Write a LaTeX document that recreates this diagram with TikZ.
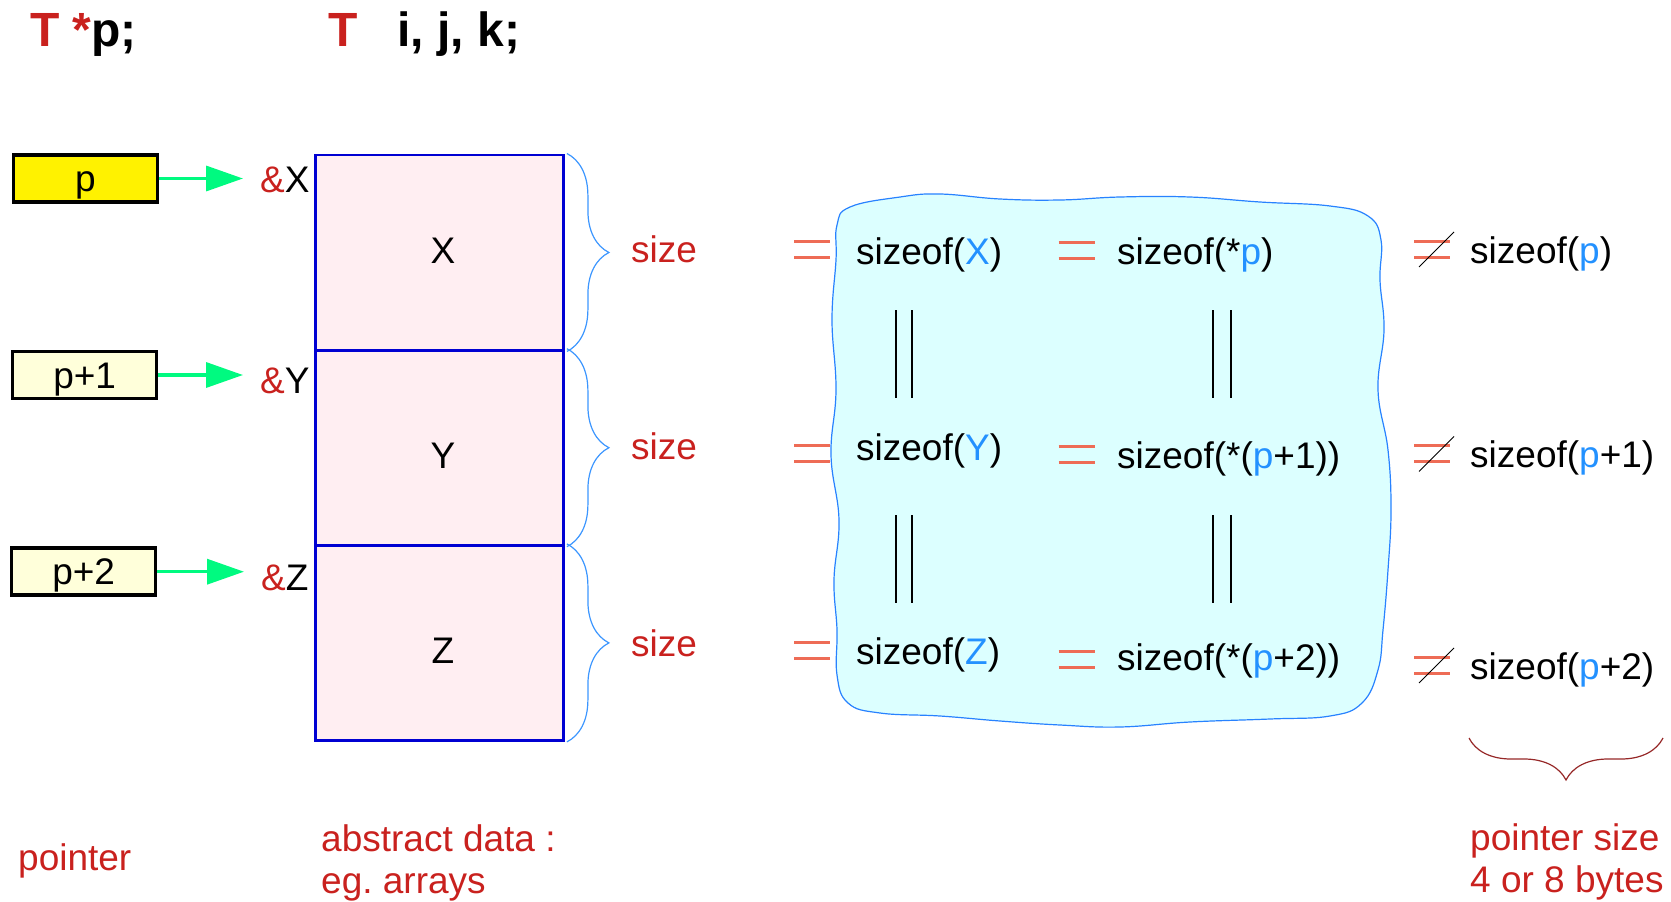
\documentclass[tikz,border=0pt]{standalone}
\usepackage{fontspec}
\setmainfont{Liberation Sans}
\usetikzlibrary{arrows.meta,decorations.pathreplacing}
\definecolor{declred}{RGB}{201,33,30}
\definecolor{lblue}{RGB}{35,145,255}
\definecolor{cellblue}{RGB}{0,0,210}
\definecolor{cellpink}{RGB}{255,238,242}
\definecolor{ptrgreen}{RGB}{0,250,128}
\definecolor{lightyel}{RGB}{255,255,218}
\definecolor{bracblue}{RGB}{60,150,255}
\definecolor{cloudfill}{RGB}{220,255,255}
\definecolor{cloudline}{RGB}{40,130,255}
\definecolor{eqsalmon}{RGB}{238,108,86}
\definecolor{bracred}{RGB}{150,40,40}
\frenchspacing

\begin{document}
\begin{tikzpicture}[x=1pt,y=-1pt]
 	\fontsize{37}{42}\selectfont
 	\def \rowone{252.5}
 	\def \rowtwo{447.7}
 	\def \rowthree{642.9}

 	\tikzstyle{p-node}=[draw=black,line width=3.5pt,minimum width=144pt,minimum height=47pt,inner sep=0pt,text height=26pt,text depth=0pt]
 	\tikzstyle{m-node}=[draw=cellblue,line width=2.8pt,fill=cellpink,minimum width=248pt,minimum height=195.2pt]
 	\tikzstyle{annot}=[anchor=base west,inner sep=0pt]
 	\tikzstyle{title}=[annot,font=\fontsize{48}{56}\selectfont\bfseries]
 	\tikzstyle{ptr}=[draw=ptrgreen,line width=3.5pt,-{Triangle[length=37pt,width=25pt]},shorten >=17pt]
 	\tikzstyle{size-brace}=[draw=bracblue,line width=1.2pt,decorate,decoration={brace,amplitude=42pt,raise=2pt}]
 	\tikzstyle{eq-line}=[draw=eqsalmon,line width=3pt]

 	\useasboundingbox (0,0) rectangle (1671,902);

 	% declarations
 	\node[title] (decl-p) at (30,46) {\textcolor{declred}{T *}p;};
 	\node[title] (decl-ijk) at (328,46) {\textcolor{declred}{T}\hspace{40pt}i, j, k;};

 	% pointers
 	\node[p-node,fill=yellow] (p0) at (85.3,178.5) {p};
 	\node[p-node,fill=lightyel] (p1) at (84.7,375) {p+1};
 	\node[p-node,fill=lightyel] (p2) at (83.7,571.7) {p+2};

 	\node[annot] (ax) at (260,192) {\textcolor{declred}{\&}X};
 	\node[annot] (ay) at (260,393) {\textcolor{declred}{\&}Y};
 	\node[annot] (az) at (261,590) {\textcolor{declred}{\&}Z};

 	\draw[ptr] (p0.east) -- (p0.east -| ax.west);
 	\draw[ptr] (p1.east) -- (p1.east -| ay.west);
 	\draw[ptr] (p2.east) -- (p2.east -| az.west);

 	% abstract data
 	\node[m-node] (cx) at (439.5,\rowone) {};
 	\node[m-node] (cy) at (439.5,\rowtwo) {};
 	\node[m-node] (cz) at (439.5,\rowthree) {};
 	\node (lx) at (443,250.4) {X};
 	\node (ly) at (443,456) {Y};
 	\node (lz) at (443,651) {Z};

 	\draw[size-brace] (cx.north east) -- (cx.south east);
 	\draw[size-brace] (cy.north east) -- (cy.south east);
 	\draw[size-brace] (cz.north east) -- (cz.south east);

 	\node[annot,text=declred] (size-x) at (631,262) {size};
 	\node[annot,text=declred] (size-y) at (631,459) {size};
 	\node[annot,text=declred] (size-z) at (631,656) {size};

 	% equal sizes
 	\draw[draw=cloudline,fill=cloudfill,line width=1.2pt] plot[smooth cycle,tension=0.7] coordinates {
 		(850,207) (900,197) (940,194) (1000,199) (1060,200) (1120,197) (1190,197)
 		(1260,202) (1330,206) (1368,216) (1381,240) (1380,280) (1384,330) (1378,390)
 		(1388,450) (1391,510) (1388,570) (1383,630) (1378,670) (1362,703) (1330,716)
 		(1270,719) (1190,722) (1120,727) (1060,725) (1000,721) (940,716) (880,713)
 		(848,703) (837,675) (837,630) (834,580) (839,520) (831,455) (836,390)
 		(832,320) (836,260) (837,225)};

 	\node[annot] (sx) at (856,264) {sizeof(\textcolor{lblue}{X})};
 	\node[annot] (sy) at (856,460) {sizeof(\textcolor{lblue}{Y})};
 	\node[annot] (sz) at (856,664) {sizeof(\textcolor{lblue}{Z})};
 	\node[annot] (sp0) at (1117,264) {sizeof(*\textcolor{lblue}{p})};
 	\node[annot] (sp1) at (1117,468) {sizeof(*(\textcolor{lblue}{p}+1))};
 	\node[annot] (sp2) at (1117,670) {sizeof(*(\textcolor{lblue}{p}+2))};

 	\foreach \ex/\ey in {812/249.5,812/453.5,812/650,1076.5/250.5,1076.5/454,1076.5/659}{
 		\draw[eq-line] (\ex-18,\ey-8) -- (\ex+18,\ey-8);
 		\draw[eq-line] (\ex-18,\ey+8) -- (\ex+18,\ey+8);
 	}
 	\foreach \bx in {896,912,1213,1231}
 		\foreach \by in {310,515}
 			\draw[line width=2.2pt] (\bx,\by) -- (\bx,\by+87.5);

 	% pointer sizes
 	\foreach \ey in {249,453.5,665}{
 		\draw[eq-line] (1414,\ey-8) -- (1450,\ey-8);
 		\draw[eq-line] (1414,\ey+8) -- (1450,\ey+8);
 		\draw[line width=1pt] (1419,\ey+18) -- (1454,\ey-17);
 	}
 	\node[annot] (np0) at (1470,263) {sizeof(\textcolor{lblue}{p})};
 	\node[annot] (np1) at (1470,467) {sizeof(\textcolor{lblue}{p}+1)};
 	\node[annot] (np2) at (1470,679) {sizeof(\textcolor{lblue}{p}+2)};

 	\coordinate (bb-r) at (1663,738);
 	\coordinate (bb-l) at (1469,738);
 	\draw[draw=bracred,line width=1.2pt,decorate,decoration={brace,amplitude=42pt}] (bb-r) -- (bb-l);

 	% labels
 	\node[annot,text=declred] (lbl-ptr) at (18,870) {pointer};
 	\node[annot,text=declred,align=left] (lbl-data) at (321,893) {abstract data :\\eg. arrays};
 	\node[annot,text=declred,align=left] (lbl-psize) at (1470,892) {pointer size\\4 or 8 bytes};
\end{tikzpicture}
\end{document}
